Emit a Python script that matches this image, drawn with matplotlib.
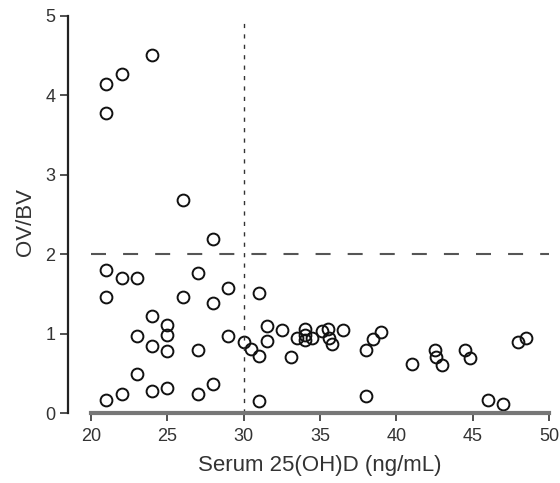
import matplotlib
matplotlib.use('Agg')
import matplotlib.pyplot as plt

# serum 25(OH)D (ng/mL)
vitd = [21, 22, 24, 21, 26, 28,
        21, 22, 23, 21, 26, 24, 25, 25, 23, 24, 25, 27, 23,
        21, 22, 24, 25, 27, 27, 29, 28, 31, 29, 30, 30.5, 31,
        31.5, 31.5, 32.5, 33.1, 33.5, 34, 34, 34, 34.5, 35.1, 35.5, 35.6,
        35.8, 36.5, 28, 31, 38, 38.5, 39, 38, 41, 42.5, 42.6, 43,
        44.5, 44.8, 48, 48.5, 46, 47]
# OV/BV
ovbv = [4.14, 4.27, 4.51, 3.78, 2.68, 2.19,
        1.80, 1.70, 1.70, 1.46, 1.46, 1.22, 1.11, 0.98, 0.97, 0.84, 0.78, 0.79, 0.49,
        0.16, 0.24, 0.28, 0.32, 0.24, 1.76, 1.57, 1.39, 1.51, 0.97, 0.90, 0.81, 0.72,
        1.10, 0.91, 1.05, 0.70, 0.95, 1.06, 0.92, 0.98, 0.95, 1.03, 1.06, 0.94,
        0.87, 1.05, 0.37, 0.15, 0.79, 0.93, 1.02, 0.21, 0.62, 0.79, 0.70, 0.60,
        0.79, 0.69, 0.90, 0.95, 0.16, 0.11]

xticks = [20, 25, 30, 35, 40, 45, 50]
yticks = [0, 1, 2, 3, 4, 5]
vitd_cut = 30
ovbv_cut = 2

plt.rcParams['font.family'] = ['Liberation Sans', 'DejaVu Sans']

fig = plt.figure(figsize=(5.6, 4.83), dpi=100)
ax = fig.add_axes([0.1214, 0.1449, 0.8726, 0.822])

ax.plot(vitd, ovbv, linestyle='none', marker='o', markersize=8.5,
        markerfacecolor='none', markeredgecolor='#111111', markeredgewidth=1.4)

# 阈值线
ax.plot([20, 50], [ovbv_cut, ovbv_cut], color='#555555', lw=1.5,
        dashes=(7.2, 8.2))
ax.plot([vitd_cut, vitd_cut], [0, 4.93], color='#333333', lw=1.0,
        dashes=(3, 4.5))

ax.set_xlim(18.49, 50.5)
ax.set_ylim(0, 5)
ax.set_xticks(xticks)
ax.set_yticks(yticks)
ax.tick_params(axis='both', labelsize=13, length=6, width=1.2,
               labelcolor='#333333', color='#333333')
ax.tick_params(axis='x', pad=5)
ax.tick_params(axis='y', pad=3)

for s in ['top', 'right']:
    ax.spines[s].set_visible(False)
ax.spines['left'].set_bounds(0, 5)
ax.spines['left'].set_linewidth(1.6)
ax.spines['left'].set_color('#222222')
ax.spines['bottom'].set_bounds(20, 50)
ax.spines['bottom'].set_linewidth(3)
ax.spines['bottom'].set_color('#777777')

ax.set_xlabel('Serum 25(OH)D (ng/mL)', fontsize=16, color='#333333')
ax.set_ylabel('OV/BV', fontsize=16, color='#333333')
ax.xaxis.set_label_coords(0.516, -0.105)
ax.yaxis.set_label_coords(-0.065, 0.48)

fig.savefig('out.png', dpi=100)
